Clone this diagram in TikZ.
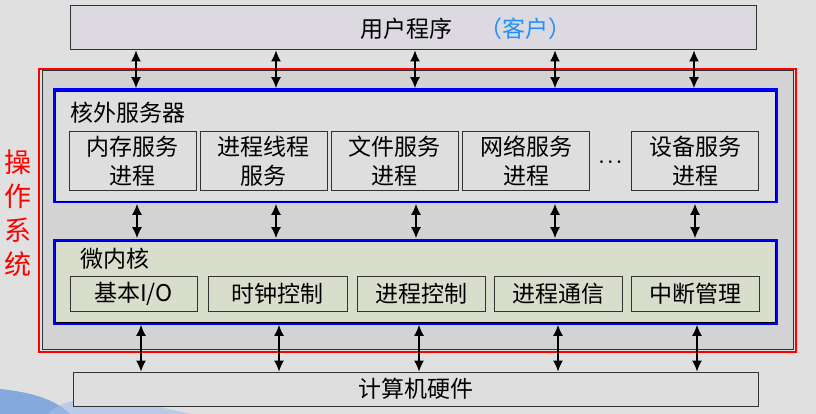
\documentclass[tikz,border=0pt]{standalone}
\usepackage{amsmath}
\usepackage{fontspec}
\setmainfont{Noto Sans CJK SC}
\usetikzlibrary{arrows.meta}
\definecolor{bggray}{RGB}{224,224,224}
\definecolor{osgray}{RGB}{211,211,211}
\definecolor{usergray}{RGB}{220,218,224}
\definecolor{panelgray}{RGB}{222,222,222}
\definecolor{kernelgreen}{RGB}{216,221,204}
\definecolor{clientblue}{RGB}{30,144,255}
\definecolor{swooshblue}{RGB}{95,145,220}
\definecolor{swooshlight}{RGB}{160,190,235}
\definecolor{boxline}{RGB}{50,50,50}

\tikzset{
  box/.style={draw=boxline, line width=1pt, inner sep=0pt},
  layer/.style={draw=black, line width=.8pt, inner sep=0pt,
    preaction={draw=blue, line width=5pt}},
  svcbox/.style={box, fill=panelgray, minimum width=127pt, minimum height=59pt,
    align=center, font=\fontsize{23}{29}\selectfont},
  krnbox/.style={box, fill=kernelgreen, minimum height=35pt,
    font=\fontsize{23}{27}\selectfont},
  biarrow/.style={{Latex[length=11pt,width=10pt]}-{Latex[length=11pt,width=10pt]},
    line width=1.2pt, black}
}

\begin{document}
\begin{tikzpicture}[x=1pt, y=-1pt, font=\fontsize{23}{27}\selectfont]

\fill[bggray] (0,0) rectangle (816,414);
\useasboundingbox (0,0) rectangle (816,414);

\fill[swooshblue, opacity=.7] (0,389) .. controls (30,392) and (55,399) .. (70,414) -- (0,414) -- cycle;
\fill[swooshlight, opacity=.6] (48,414) .. controls (62,398) and (100,394) .. (135,402)
  .. controls (160,407) and (178,411) .. (190,414) -- cycle;

% user programs
\node[box, fill=usergray, minimum width=686pt, minimum height=44pt] (user) at (413,28) {};
\node (usertxt) at (466,29) {用户程序\hspace{1.2em}{\color{clientblue}（客户）}};

% operating system frame
\node[draw=red, line width=2pt, minimum width=757pt, minimum height=283pt, inner sep=0pt] (os) at (417.5,210.5) {};
\node[box, fill=osgray, minimum width=751pt, minimum height=278pt] (osin) at (417.5,210) {};
\node[red, align=center, font=\fontsize{27}{34}\selectfont] (oslabel) at (18,213) {操\\作\\系\\统};

% services outside the kernel
\node[layer, fill=panelgray, minimum width=720pt, minimum height=110pt] (svcpanel) at (415,146) {};
\node[anchor=west] (svctitle) at (67,113) {核外服务器};
\node[svcbox] (mem) at (132.5,161.5) {内存服务\\进程};
\node[svcbox] (thr) at (263.5,161.5) {进程线程\\服务};
\node[svcbox] (file) at (394.5,161.5) {文件服务\\进程};
\node[svcbox] (net) at (526,161.5) {网络服务\\进程};
\node[font=\fontsize{17}{17}\selectfont] (dots) at (612,162) {$\boldsymbol{\cdots}$};
\node[svcbox] (dev) at (695,161.5) {设备服务\\进程};

% microkernel
\node[layer, fill=kernelgreen, minimum width=720pt, minimum height=81pt] (krnpanel) at (415,281.5) {};
\node[anchor=west] (krntitle) at (77,259) {微内核};
\node[krnbox, minimum width=127pt] (io) at (133.5,293.5) {基本I/O};
\node[krnbox, minimum width=139pt] (clock) at (277.5,293.5) {时钟控制};
\node[krnbox, minimum width=128pt] (proc) at (421,293.5) {进程控制};
\node[krnbox, minimum width=128pt] (ipc) at (558,293.5) {进程通信};
\node[krnbox, minimum width=128pt] (irq) at (695,293.5) {中断管理};

% hardware
\node[box, fill=panelgray, minimum width=685pt, minimum height=34pt] (hw) at (415.5,389) {计算机硬件};

\foreach \x in {136,276,415,555,694}
  \draw[biarrow, shorten >=2.5pt] (user.south -| \x,0) -- (svcpanel.north -| \x,0);
\foreach \x in {137,276,416,555,695}
  \draw[biarrow, shorten <=2.5pt, shorten >=2.5pt] (svcpanel.south -| \x,0) -- (krnpanel.north -| \x,0);
\foreach \x in {141,279,419,558,697}
  \draw[biarrow, shorten <=2.5pt] (krnpanel.south -| \x,0) -- (hw.north -| \x,0);

\end{tikzpicture}
\end{document}
